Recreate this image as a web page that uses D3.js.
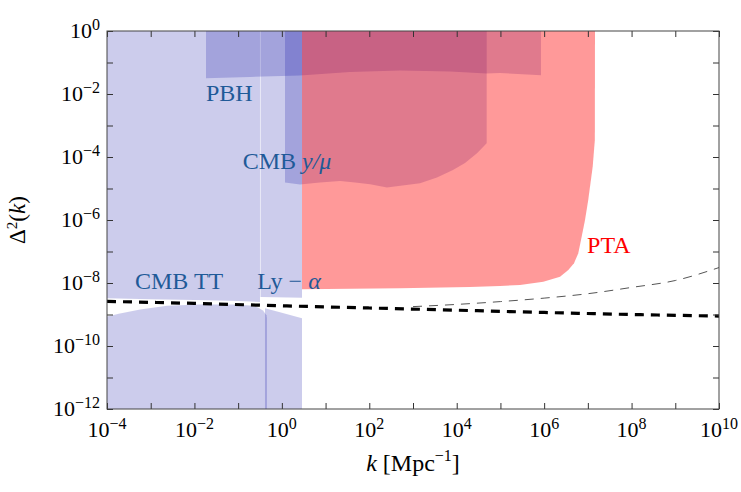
<!DOCTYPE html>
<html><head><meta charset="utf-8">
<script src="https://cdn.jsdelivr.net/npm/d3@7"></script>
<style>
body{margin:0;background:#fff}
svg{display:block}
text{font-family:"Liberation Serif","Times New Roman",serif}
</style>
</head><body>
<svg id="chart" width="741" height="492"></svg>
<script>
// ---------- data (k in Mpc^-1, Delta^2) ----------
const xTickExps = [-4,-3,-2,-1,0,1,2,3,4,5,6,7,8,9,10];
const xLabelExps = [-4,-2,0,2,4,6,8,10];
const yTickExps = [-12,-11,-10,-9,-8,-7,-6,-5,-4,-3,-2,-1,0];
const yLabelExps = [-12,-10,-8,-6,-4,-2,0];

// CMB TT excluded region (above and below the measured spectrum)
const cmbTTUpper = [[1e-4,1],[0.316,1],[0.316,2.49e-9],[0.1,2.68e-9],[1e-2,2.88e-9],[1e-3,3.06e-9],[1e-4,3.27e-9]];
const cmbTTLower = [[1e-4,1e-12],[1e-4,8.65e-10],[1.98e-4,1.08e-9],[5.69e-4,1.44e-9],[2.36e-3,1.90e-9],[1.34e-2,2.09e-9],[7.62e-2,2.09e-9],[0.187,1.93e-9],[0.284,1.67e-9],[0.370,1.34e-9],[0.445,9.5e-10],[0.457,7.9e-10],[0.457,1e-12]];
// Lyman-alpha excluded region
const lyaUpper = [[0.325,1],[2.89,1],[2.89,3.41e-9],[0.325,3.60e-9]];
const lyaLower = [[0.411,1e-12],[0.411,1.57e-9],[1.0,1.13e-9],[2.89,7.57e-10],[2.89,1e-12]];
// Primordial black holes
const pbh = [[1.84e-2,1],[8.47e5,1],[8.47e5,3.93e-2],[9.77e4,4.64e-2],[4.8e4,4.48e-2],[7.0e3,5.18e-2],[505,5.57e-2],[36.2,4.99e-2],[2.60,3.87e-2],[0.187,3.47e-2],[1.84e-2,3.15e-2]];
// CMB spectral distortions y / mu
const cmbYMu = [[1.18,1],[4.85e4,1],[4.85e4,2.72e-4],[2.91e4,1.31e-4],[1.55e4,6.45e-5],[8.22e3,3.87e-5],[3.54e3,2.23e-5],[1.45e3,1.46e-5],[254,1.08e-5],[104,1.36e-5],[47.1,1.55e-5],[21.4,1.73e-5],[7.46,1.55e-5],[2.60,1.34e-5],[1.18,1.55e-5]];
// Pulsar timing arrays
const pta = [[2.89,1],[1.456e7,1],[1.445e7,3.47e-4],[1.29e7,4.92e-5],[1.02e7,4.32e-6],[8.61e6,1e-6],[6.97e6,2.32e-7],[6.04e6,8.77e-8],[4.82e6,4.22e-8],[3.57e6,2.59e-8],[2.31e6,1.58e-8],[9.57e5,1.10e-8],[2.81e5,8.65e-9],[9.77e4,8.04e-9],[2.01e4,7.46e-9],[505,6.79e-9],[2.89,6.31e-9]];

// power spectrum curves
const powerK = [1e-4,1e-2,1,1e2,1e4,1e6,1e8,1e10];
const powerDelta = [2.61e-9,2.25e-9,1.89e-9,1.61e-9,1.37e-9,1.16e-9,1.0e-9,8.9e-10];
const runK = [1e3,1e4,1e5,1e6,1e7,1e8,1e9,1e10];
const runDelta = [1.78e-9,2.09e-9,2.57e-9,3.31e-9,4.57e-9,7.24e-9,1.20e-8,3.09e-8];

// labels (anchor: left end of baseline)
const regionLabels = [
  {k:1.84e-2, d:6.0e-3, parts:[["PBH",false]], color:"#1f5a98"},
  {k:0.127, d:4.16e-5, parts:[["CMB ",false],["y/μ",true]], color:"#1f5a98"},
  {k:4.37e-4, d:6.45e-9, parts:[["CMB TT",false]], color:"#1f5a98"},
  {k:0.274, d:6.45e-9, parts:[["Ly − ",false],["α",true]], color:"#1f5a98"},
  {k:9.6e6, d:9.2e-8, parts:[["PTA",false]], color:"#ff0000"}
];

// ---------- drawing ----------
const svg = d3.select("#chart");
const L=107, R=719, T=31, B=409;
const x = d3.scaleLog().domain([1e-4,1e10]).range([L,R]);
const y = d3.scaleLog().domain([1e-12,1]).range([B,T]);

svg.append("defs").append("clipPath").attr("id","clip")
  .append("rect").attr("x",L).attr("y",T).attr("width",R-L).attr("height",B-T);

const plot = svg.append("g").attr("clip-path","url(#clip)");
const poly = d3.line().x(d=>x(d[0])).y(d=>y(d[1]));

const blue = "rgb(0,0,160)", blueOp = 0.2;
[cmbTTUpper, cmbTTLower, lyaUpper, lyaLower, pbh, cmbYMu].forEach(p=>{
  plot.append("path").attr("d", poly(p)+"Z").attr("fill",blue).attr("fill-opacity",blueOp);
});
plot.append("path").attr("d", poly(pta)+"Z").attr("fill","rgb(255,0,0)").attr("fill-opacity",0.4);

const curve = d3.line().x(d=>x(d[0])).y(d=>y(d[1])).curve(d3.curveMonotoneX);
plot.append("path").attr("d", curve(runK.map((k,i)=>[k,runDelta[i]])))
  .attr("fill","none").attr("stroke","#555").attr("stroke-width",1).attr("stroke-dasharray","9,7");
plot.append("path").attr("d", curve(powerK.map((k,i)=>[k,powerDelta[i]])))
  .attr("fill","none").attr("stroke","#000").attr("stroke-width",3.2).attr("stroke-dasharray","9,7");

// region labels
regionLabels.forEach(l=>{
  const t = svg.append("text").attr("x",x(l.k)).attr("y",y(l.d))
    .attr("font-size",24).attr("fill",l.color);
  l.parts.forEach(p=>{
    t.append("tspan").text(p[0]).attr("font-style",p[1]?"italic":"normal");
  });
});

// axes (ticks inward on all sides)
const tickCol = "#333";
const xt = xTickExps.map(e=>Math.pow(10,e));
const yt = yTickExps.map(e=>Math.pow(10,e));
function styleAxis(g){ g.select(".domain").remove(); g.selectAll("line").attr("stroke",tickCol); g.selectAll("text").remove(); }
svg.append("g").attr("transform",`translate(0,${B})`).call(d3.axisBottom(x).tickValues(xt).tickSize(-6).tickFormat("")).call(styleAxis);
svg.append("g").attr("transform",`translate(0,${T})`).call(d3.axisTop(x).tickValues(xt).tickSize(-6).tickFormat("")).call(styleAxis);
svg.append("g").attr("transform",`translate(${L},0)`).call(d3.axisLeft(y).tickValues(yt).tickSize(-6).tickFormat("")).call(styleAxis);
svg.append("g").attr("transform",`translate(${R},0)`).call(d3.axisRight(y).tickValues(yt).tickSize(-6).tickFormat("")).call(styleAxis);
svg.append("rect").attr("x",L).attr("y",T).attr("width",R-L).attr("height",B-T)
  .attr("fill","none").attr("stroke","#444").attr("stroke-width",1);

function expText(e){ return (e<0?"−":"")+Math.abs(e); }
xLabelExps.forEach(e=>{
  const t = svg.append("text").attr("x",x(Math.pow(10,e))).attr("y",437)
    .attr("text-anchor","middle").attr("font-size",22).attr("fill","#000");
  t.append("tspan").text("10");
  t.append("tspan").text(expText(e)).attr("font-size",16).attr("dy",-8);
});
yLabelExps.forEach(e=>{
  const t = svg.append("text").attr("x",100).attr("y",y(Math.pow(10,e))+7)
    .attr("text-anchor","end").attr("font-size",22).attr("fill","#000");
  t.append("tspan").text("10");
  t.append("tspan").text(expText(e)).attr("font-size",16).attr("dy",-8);
});

// axis titles
const xl = svg.append("text").attr("x",(L+R)/2).attr("y",471).attr("text-anchor","middle").attr("font-size",24);
xl.append("tspan").text("k").attr("font-style","italic");
xl.append("tspan").text(" [Mpc");
xl.append("tspan").text("−1").attr("font-size",16).attr("dy",-10);
xl.append("tspan").text("]").attr("dy",10);

const yl = svg.append("text").attr("transform",`translate(25,${(T+B)/2}) rotate(-90)`).attr("text-anchor","middle").attr("font-size",23);
yl.append("tspan").text("Δ");
yl.append("tspan").text("2").attr("font-size",15).attr("dy",-8);
yl.append("tspan").text("(").attr("dy",8);
yl.append("tspan").text("k").attr("font-style","italic");
yl.append("tspan").text(")");
</script>
</body></html>
